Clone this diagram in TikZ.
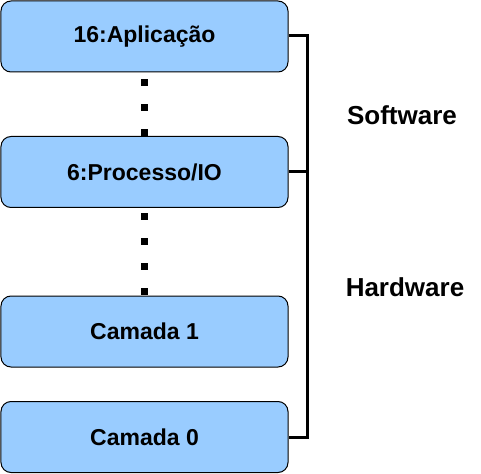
\documentclass[tikz,border=0pt]{standalone}
\usepackage{fontspec}
\setmainfont{Liberation Sans}
\usetikzlibrary{backgrounds}
\definecolor{boxblue}{HTML}{99CCFF}
\begin{document}
\begin{tikzpicture}[x=1bp,y=-1bp,
  layerbox/.style={draw=black, line width=1bp, fill=boxblue, rounded corners=10bp,
    minimum width=287bp, minimum height=71bp, inner sep=0pt,
    font=\fontsize{23bp}{27bp}\selectfont\bfseries},
  sidelabel/.style={font=\fontsize{26bp}{30bp}\selectfont\bfseries, inner sep=0pt},
  bracket/.style={line width=3bp, line join=miter},
  dots/.style={line width=7bp, dash pattern=on 7bp off 18bp}]
\useasboundingbox (0,0) rectangle (481,474);
\node[layerbox] (app) at (144.5,36.5) {16:Aplicação};
\node[layerbox] (proc) at (144.5,172) {6:Processo/IO};
\node[layerbox] (c1) at (144.5,331.5) {Camada 1};
\node[layerbox] (c0) at (144.5,437) {Camada 0};
\node[sidelabel] (sw) at (402,115) {Software};
\node[sidelabel] (hw) at (405,287) {Hardware};
\coordinate (btop) at (307,36);
\coordinate (bmid) at (307,172);
\coordinate (bbot) at (307,437);
\begin{scope}[on background layer]
\draw[dots, dash phase=18bp] (app.south) -- (proc.north);
\draw[dots, dash phase=20bp] (proc.south) -- (c1.north);
\end{scope}
\draw[bracket] (app.east |- btop) -- (btop) -- (bbot) -- (c0.east |- bbot);
\draw[bracket] (proc.east |- bmid) -- (bmid);
\end{tikzpicture}
\end{document}
